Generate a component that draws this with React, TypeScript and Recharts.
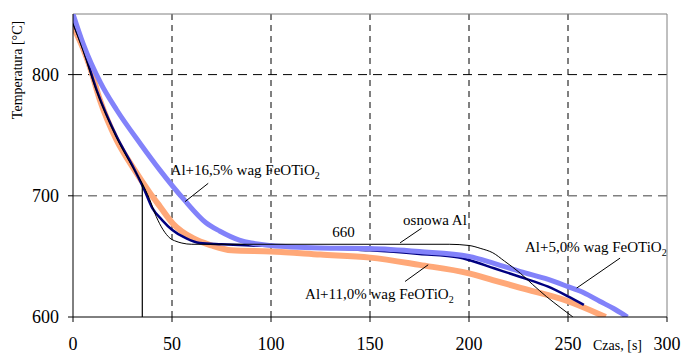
import React from 'react';
import {
  LineChart,
  Line,
  XAxis,
  YAxis,
  ReferenceLine,
  ReferenceDot,
  Label,
} from 'recharts';

// Krzywe stygnięcia: czas [s] i temperatura [°C]
const orangeTime = [0, 5, 8.6, 13.6, 22, 30, 39, 44, 50.5, 60.6, 70, 80, 100, 125, 150, 175, 200, 212, 226, 250, 269];
const orangeTemp = [840, 822, 806, 779, 746, 724, 702, 691, 677, 665, 659, 655, 654, 651.5, 649, 643, 636, 630.5, 624, 613, 600];

const navyTime = [0, 5, 12, 22, 30, 36, 40, 45, 50, 57, 64, 75, 90, 100, 125, 150, 175, 195, 200, 213, 226, 240, 250, 258];
const navyTemp = [843, 822, 787, 749, 725, 705, 690, 680, 672, 665, 661, 660, 659, 658.5, 657, 655, 652, 649, 647, 640, 633, 625, 617, 610];

const blueTime = [0, 5, 14, 22, 34, 44, 56, 67, 74, 84, 90, 100, 125, 150, 175, 200, 213, 226, 240, 250, 258, 266, 273, 280];
const blueTemp = [850, 826, 793, 771, 743, 721, 697, 678, 671, 663.5, 661, 659, 657, 656.5, 654, 650, 644, 637.5, 631, 625, 620, 613, 607, 600];

const baseTime = [0, 5, 12, 22, 30, 35, 38.5, 42, 45.5, 49, 52, 55, 60, 100, 150, 190, 200, 206, 212, 218, 226, 232, 239, 246, 252.5];
const baseTemp = [842, 820, 786, 748, 724, 710, 698, 683, 672, 665, 662.5, 661, 660, 660, 660, 660, 659, 656.5, 653, 646, 636, 627, 617, 608, 600];

const xTicks = [0, 50, 100, 150, 200, 250, 300];
const yTicks = [600, 700, 800];
const gridX = [50, 100, 150, 200, 250];

const toPoints = (time: number[], temp: number[]) =>
  time.map((t, i) => ({ t, temp: temp[i] }));

const FONT = 'Liberation Serif, DejaVu Serif, serif';

// tekst adnotacji z indeksem dolnym "2"
const noteShape = (text: string, sub?: string, anchor: 'start' | 'middle' = 'start') =>
  (props: any) => (
    <text x={props.cx} y={props.cy} style={{ fontFamily: FONT }} fontSize={15} fill="#000" textAnchor={anchor}>
      {text}
      {sub && <tspan fontSize={10} dy={4}>{sub}</tspan>}
    </text>
  );

export default function App() {
  return (
    <div style={{ position: 'absolute', left: 0, top: 0, width: 682, height: 354, background: '#fff', fontFamily: FONT }}>
      <LineChart width={682} height={354} margin={{ top: 14, right: 15, bottom: 0, left: 0 }} style={{ fontFamily: FONT }}>
        <XAxis
          type="number"
          dataKey="t"
          domain={[0, 300]}
          ticks={xTicks}
          allowDataOverflow
          height={37}
          tickSize={5}
          tickMargin={15}
          axisLine={{ stroke: '#000' }}
          tickLine={{ stroke: '#000' }}
          tick={{ fill: '#000', fontSize: 18, style: { fontFamily: FONT } }}
        >
          <Label
            content={() => (
              <text x={593} y={350} style={{ fontFamily: FONT }} fontSize={14} fill="#000">Czas, [s]</text>
            )}
          />
        </XAxis>
        <YAxis
          type="number"
          dataKey="temp"
          domain={[600, 850]}
          ticks={yTicks}
          allowDataOverflow
          width={73}
          tickSize={5}
          tickMargin={9}
          axisLine={{ stroke: '#000' }}
          tickLine={{ stroke: '#000' }}
          tick={{ fill: '#000', fontSize: 18, style: { fontFamily: FONT } }}
        >
          <Label
            content={() => (
              <text
                transform="translate(22,70) rotate(-90)"
                textAnchor="middle"
                style={{ fontFamily: FONT }}
                fontSize={14}
                fill="#000"
              >
                Temperatura [°C]
              </text>
            )}
          />
        </YAxis>

        {/* siatka i ramka */}
        {gridX.map((x) => (
          <ReferenceLine key={x} x={x} stroke="#000" strokeDasharray="6 5" />
        ))}
        <ReferenceLine y={800} stroke="#000" strokeDasharray="9 6" />
        <ReferenceLine y={700} stroke="#808080" strokeDasharray="9 6" strokeWidth={1.5} />
        <ReferenceLine y={850} stroke="#808080" />
        <ReferenceLine x={300} stroke="#808080" />

        <Line data={toPoints(orangeTime, orangeTemp)} dataKey="temp" type="monotone" stroke="#ffa878" strokeWidth={6} dot={false} isAnimationActive={false} />
        <Line data={toPoints(navyTime, navyTemp)} dataKey="temp" type="monotone" stroke="#000080" strokeWidth={2.5} dot={false} isAnimationActive={false} />
        <Line data={toPoints(blueTime, blueTemp)} dataKey="temp" type="monotone" stroke="#8282fa" strokeWidth={5} dot={false} isAnimationActive={false} />
        <Line data={toPoints(baseTime, baseTemp)} dataKey="temp" type="monotone" stroke="#000" strokeWidth={1} dot={false} isAnimationActive={false} />

        {/* pionowa linia przechłodzenia */}
        <ReferenceLine segment={[{ x: 35, y: 600 }, { x: 35, y: 710 }]} stroke="#000" strokeWidth={1.2} />

        {/* linie odniesienia do opisów */}
        <ReferenceLine segment={[{ x: 68.3, y: 710.3 }, { x: 56.6, y: 695.2 }]} stroke="#000" />
        <ReferenceLine segment={[{ x: 176.1, y: 673.3 }, { x: 165.2, y: 661.2 }]} stroke="#000" />
        <ReferenceLine segment={[{ x: 167.7, y: 629.3 }, { x: 179.4, y: 643.1 }]} stroke="#000" />
        <ReferenceLine segment={[{ x: 276.3, y: 648.6 }, { x: 254.4, y: 623.9 }]} stroke="#000" />

        <ReferenceDot x={49.3} y={717.2} r={0} shape={noteShape('Al+16,5% wag FeOTiO', '2')} />
        <ReferenceDot x={136.6} y={666.1} r={0} shape={noteShape('660', undefined, 'middle')} />
        <ReferenceDot x={166.7} y={675.8} r={0} shape={noteShape('osnowa Al')} />
        <ReferenceDot x={117.2} y={615.1} r={0} shape={noteShape('Al+11,0% wag FeOTiO', '2')} />
        <ReferenceDot x={228.3} y={654} r={0} shape={noteShape('Al+5,0% wag FeOTiO', '2')} />
      </LineChart>
    </div>
  );
}
